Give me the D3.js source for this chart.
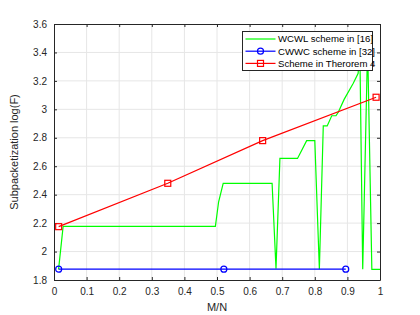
<!DOCTYPE html>
<html>
<head>
<meta charset="utf-8">
<script src="https://cdn.jsdelivr.net/npm/d3@7"></script>
<style>
  body { margin: 0; background: #fff; }
  svg text { font-family: "Liberation Sans", Arial, sans-serif; }
</style>
</head>
<body>
<svg></svg>
<script>
var width = 420;
var height = 315;

var margin = { "top": 24,
               "bottom": 35,
               "left": 54,
               "right": 40 };

// data
var wcwlX = [0.014, 0.028, 0.495, 0.505, 0.519, 0.669, 0.681, 0.693, 0.747, 0.775, 0.800, 0.814, 0.826, 0.838, 0.852, 0.865, 0.872, 0.890, 0.918, 0.933, 0.938, 0.947, 0.962, 0.975, 1.000];
var wcwlY = [1.875, 2.177, 2.177, 2.35, 2.48, 2.48, 1.88, 2.655, 2.655, 2.78, 2.78, 1.875, 2.883, 2.883, 2.955, 2.955, 2.98, 3.07, 3.183, 3.253, 3.45, 1.875, 3.45, 1.875, 1.875];

var cwwcX = [0.0143, 0.521, 0.895];
var cwwcY = [1.876, 1.876, 1.876];

var oursX = [0.0143, 0.349, 0.64, 0.988];
var oursY = [2.175, 2.48, 2.78, 3.085];

var xTicks = [0, 0.1, 0.2, 0.3, 0.4, 0.5, 0.6, 0.7, 0.8, 0.9, 1];
var yTicks = [1.8, 2, 2.2, 2.4, 2.6, 2.8, 3, 3.2, 3.4, 3.6];

var legendNames = ["WCWL scheme in [16]", "CWWC scheme in [32]", "Scheme in Therorem 4"];

var innerW = width - margin.left - margin.right;
var innerH = height - margin.top - margin.bottom;

var svg = d3.select("svg")
            .attr("width", width)
            .attr("height", height)
            .append("g")
            .attr("transform", "translate(" + margin.left + "," + margin.top + ")");

var scaleX = d3.scaleLinear().domain([0, 1]).range([0, innerW]);
var scaleY = d3.scaleLinear().domain([1.8, 3.6]).range([innerH, 0]);

// grid
svg.append("g").selectAll("line")
   .data(xTicks.slice(1, -1))
   .enter().append("line")
   .attr("x1", function(d) { return scaleX(d) })
   .attr("x2", function(d) { return scaleX(d) })
   .attr("y1", 0).attr("y2", innerH)
   .attr("stroke", "#e6e6e6").attr("stroke-width", 1);

svg.append("g").selectAll("line")
   .data(yTicks.slice(1, -1))
   .enter().append("line")
   .attr("y1", function(d) { return scaleY(d) })
   .attr("y2", function(d) { return scaleY(d) })
   .attr("x1", 0).attr("x2", innerW)
   .attr("stroke", "#e6e6e6").attr("stroke-width", 1);

// axes
function fmt(d) { return d3.format("~g")(d); }

var xAxis = d3.axisBottom(scaleX).tickValues(xTicks).tickFormat(fmt)
              .tickSizeInner(-3).tickSizeOuter(0).tickPadding(8);
var yAxis = d3.axisLeft(scaleY).tickValues(yTicks).tickFormat(fmt)
              .tickSizeInner(-3).tickSizeOuter(0).tickPadding(7);
var xTop = d3.axisTop(scaleX).tickValues(xTicks).tickFormat("")
              .tickSizeInner(-3).tickSizeOuter(0);
var yRight = d3.axisRight(scaleY).tickValues(yTicks).tickFormat("")
              .tickSizeInner(-3).tickSizeOuter(0);

svg.append("g").attr("transform", "translate(0," + innerH + ")").attr("class", "axis").call(xAxis);
svg.append("g").attr("class", "axis").call(yAxis);
svg.append("g").attr("class", "axis").call(xTop);
svg.append("g").attr("transform", "translate(" + innerW + ",0)").attr("class", "axis").call(yRight);

svg.selectAll(".axis path").attr("stroke", "#262626").attr("stroke-width", 1);
svg.selectAll(".axis line").attr("stroke", "#262626");
svg.selectAll(".axis text").attr("fill", "#262626").style("font-size", "10px");

// labels
svg.append("text")
   .attr("x", innerW / 2).attr("y", innerH + 31)
   .attr("text-anchor", "middle")
   .attr("fill", "#262626")
   .style("font-size", "11px")
   .text("M/N");

svg.append("text")
   .attr("transform", "translate(-36," + (innerH / 2) + ") rotate(-90)")
   .attr("text-anchor", "middle")
   .attr("fill", "#262626")
   .style("font-size", "11px")
   .text("Subpacketization log(F)");

// series
var line = d3.line()
             .x(function(d) { return scaleX(d[0]) })
             .y(function(d) { return scaleY(d[1]) });

var plot = svg.append("g");

var wcwl = d3.zip(wcwlX, wcwlY);
var cwwc = d3.zip(cwwcX, cwwcY);
var ours = d3.zip(oursX, oursY);

plot.append("path").datum(wcwl)
    .attr("d", line).attr("fill", "none")
    .attr("stroke", "#00ff00").attr("stroke-width", 1.2);

plot.append("path").datum(cwwc)
    .attr("d", line).attr("fill", "none")
    .attr("stroke", "#0000ff").attr("stroke-width", 1.2);

plot.selectAll(".circ").data(cwwc)
    .enter().append("circle")
    .attr("cx", function(d) { return scaleX(d[0]) })
    .attr("cy", function(d) { return scaleY(d[1]) })
    .attr("r", 3)
    .attr("fill", "none").attr("stroke", "#0000ff").attr("stroke-width", 1.2);

plot.append("path").datum(ours)
    .attr("d", line).attr("fill", "none")
    .attr("stroke", "#ff0000").attr("stroke-width", 1.2);

plot.selectAll(".sq").data(ours)
    .enter().append("rect")
    .attr("x", function(d) { return scaleX(d[0]) - 3 })
    .attr("y", function(d) { return scaleY(d[1]) - 3 })
    .attr("width", 6).attr("height", 6)
    .attr("fill", "none").attr("stroke", "#ff0000").attr("stroke-width", 1.2);

// legend
var lg = svg.append("g").attr("transform", "translate(" + (242.5 - margin.left) + "," + (31.5 - margin.top) + ")");
lg.append("rect")
  .attr("width", 130).attr("height", 39)
  .attr("fill", "#fff").attr("stroke", "#262626").attr("stroke-width", 1);

var colors = ["#00ff00", "#0000ff", "#ff0000"];
legendNames.forEach(function(name, i) {
  var y = 7.5 + i * 12.2;
  lg.append("line")
    .attr("x1", 3).attr("x2", 33).attr("y1", y).attr("y2", y)
    .attr("stroke", colors[i]).attr("stroke-width", 1.2);
  if (i == 1) {
    lg.append("circle").attr("cx", 18).attr("cy", y).attr("r", 3)
      .attr("fill", "none").attr("stroke", colors[i]).attr("stroke-width", 1.2);
  }
  if (i == 2) {
    lg.append("rect").attr("x", 15).attr("y", y - 3).attr("width", 6).attr("height", 6)
      .attr("fill", "none").attr("stroke", colors[i]).attr("stroke-width", 1.2);
  }
  lg.append("text")
    .attr("x", 35.5).attr("y", y + 3.3)
    .attr("fill", "#000")
    .style("font-size", "9.6px")
    .text(name);
});
</script>
</body>
</html>
